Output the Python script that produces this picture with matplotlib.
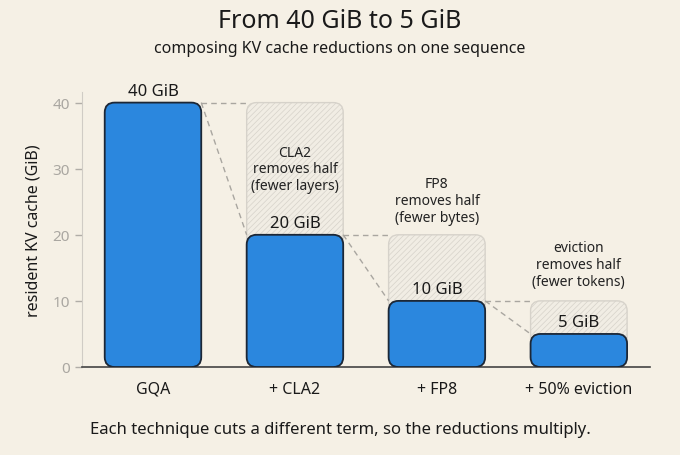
import matplotlib.pyplot as plt
from matplotlib.patches import FancyBboxPatch

plt.rcParams['font.family'] = ['Noto Sans', 'DejaVu Sans']
plt.rcParams['hatch.linewidth'] = 0.5

stages = ['GQA', '+ CLA2', '+ FP8', '+ 50% eviction']
cache_gib = [40, 20, 10, 5]
value_labels = ['40 GiB', '20 GiB', '10 GiB', '5 GiB']
notes = ['', 'CLA2\nremoves half\n(fewer layers)', 'FP8\nremoves half\n(fewer bytes)',
         'eviction\nremoves half\n(fewer tokens)']
yticks = [0, 10, 20, 30, 40]

bg = '#f5f0e5'
blue = '#2b87de'
navy = '#1c2736'
ghost_edge = '#d6d2ca'
dash = '#a9a6a0'

fig = plt.figure(figsize=(6.8, 4.56), dpi=100, facecolor=bg)
ax = fig.add_axes([0.1206, 0.193, 0.835, 0.603], facecolor=bg)

x = list(range(len(stages)))
w = 0.68
ax.set_xlim(-0.5, 3.5)
ax.set_ylim(0, 41.6)

bars = ax.bar(x, cache_gib, w, alpha=0)
aspect = (568 / 4) / (265 / 40)

# ghost boxes: where the previous stage was
for i in range(1, len(x)):
    r = bars[i]
    g = FancyBboxPatch((r.get_x(), 0), r.get_width(), cache_gib[i - 1],
                       boxstyle='round,pad=0,rounding_size=0.07', mutation_aspect=aspect,
                       facecolor='#f1ede4', edgecolor=ghost_edge, hatch='//////',
                       linewidth=1.0, zorder=1)
    ax.add_patch(g)
    x0 = bars[i - 1].get_x() + w
    x1 = r.get_x()
    ax.plot([x0, x1], [cache_gib[i - 1], cache_gib[i - 1]], color=dash, lw=1,
            ls=(0, (4, 3)), zorder=1.5)
    ax.plot([x0, x1], [cache_gib[i - 1], cache_gib[i]], color=dash, lw=1,
            ls=(0, (4, 3)), zorder=1.5)

for r in bars:
    p = FancyBboxPatch((r.get_x(), 0), r.get_width(), r.get_height(),
                       boxstyle='round,pad=0,rounding_size=0.07', mutation_aspect=aspect,
                       facecolor=blue, edgecolor=navy, linewidth=1.3, zorder=3)
    ax.add_patch(p)

for i, v in enumerate(cache_gib):
    ax.text(x[i], v + 0.6, value_labels[i], ha='center', va='bottom', fontsize=12,
            color='#1a1a1a', zorder=4)

ax.text(x[1], 30, notes[1], ha='center', va='center', fontsize=10, color='#222',
        linespacing=1.15, zorder=4)
ax.text(x[2], 25.2, notes[2], ha='center', va='center', fontsize=10, color='#222',
        linespacing=1.15, zorder=4)
ax.text(x[3], 15.5, notes[3], ha='center', va='center', fontsize=10, color='#222',
        linespacing=1.15, zorder=4)

ax.set_xticks(x)
ax.set_xticklabels(stages, fontsize=11.5, color='#1a1a1a')
ax.tick_params(axis='x', length=0, pad=10)
ax.set_yticks(yticks)
ax.tick_params(axis='y', colors='#b0ada7', labelsize=11, length=5, width=1)
for t in ax.get_yticklabels():
    t.set_color('#aaa7a1')
ax.set_ylabel('resident KV cache (GiB)', fontsize=11.5, color='#1a1a1a', labelpad=8)

for s in ['top', 'right']:
    ax.spines[s].set_visible(False)
ax.spines['left'].set_color('#d0ccc5')
ax.spines['bottom'].set_color('#444444')
ax.spines['bottom'].set_linewidth(1.2)

fig.text(0.5, 0.952, 'From 40 GiB to 5 GiB', ha='center', va='center', fontsize=18,
         color='#1a1a1a')
fig.text(0.5, 0.893, 'composing KV cache reductions on one sequence', ha='center',
         va='center', fontsize=11.5, color='#1a1a1a')
fig.text(0.5, 0.057, 'Each technique cuts a different term, so the reductions multiply.',
         ha='center', va='center', fontsize=12, color='#1a1a1a')

fig.savefig('out.png', dpi=100, facecolor=bg)
